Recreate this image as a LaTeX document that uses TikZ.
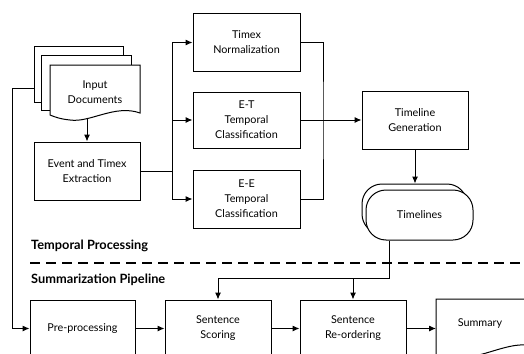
\documentclass[tikz,border=0pt]{standalone}
\usepackage{fontspec}
\setmainfont{Lato}
\usetikzlibrary{arrows.meta}
\begin{document}
\begin{tikzpicture}[x=1pt,y=-1pt,
  box/.style={draw, line width=1pt, fill=white, align=center, inner sep=0pt,
    font=\fontsize{10.8}{15}\selectfont},
  lbl/.style={align=center, inner sep=0pt, font=\fontsize{10.8}{15}\selectfont},
  ln/.style={line width=1pt},
  arr/.style={line width=1pt, -{Latex[length=7pt,width=6pt]}},
  sect/.style={anchor=west, inner sep=0pt, font=\fontsize{12.8}{14}\selectfont\bfseries}]
\useasboundingbox (0,0) rectangle (524,353);

% Input documents stack
\node[box, minimum width=89pt, minimum height=55pt] (back1) at (78.5,74.5) {};
\node[box, minimum width=90pt, minimum height=54pt] (back2) at (86,83) {};
\draw[ln, fill=white] (50,65) -- (140,65) -- (140,113)
  .. controls (115,104) and (90,123) .. (70,120)
  .. controls (60,119) and (55,117) .. (50,115) -- cycle;
\node[lbl] (docs) at (95,92) {Input\\Documents};
\coordinate (docbot) at (87,119);

\node[box, minimum width=106pt, minimum height=58pt] (ext) at (87,171) {Event and Timex\\Extraction};

\node[box, minimum width=107pt, minimum height=57pt] (tn) at (246.5,42.5) {Timex\\Normalization};
\node[box, minimum width=107pt, minimum height=56pt] (et) at (246.5,120) {E-T\\Temporal\\Classification};
\node[box, minimum width=107pt, minimum height=58pt] (ee) at (246.5,199) {E-E\\Temporal\\Classification};

\node[box, minimum width=106pt, minimum height=58pt] (tg) at (415,120) {Timeline\\Generation};

\node[box, rounded corners=20pt, minimum width=105pt, minimum height=50pt] (tlb) at (414.5,209) {};
\node[box, rounded corners=20pt, minimum width=107pt, minimum height=50pt] (tlf) at (419.5,215) {Timelines};

% section labels
\node[sect] (tp) at (31,246) {Temporal Processing};
\node[sect] (sp) at (31,280) {Summarization Pipeline};
\coordinate (dl) at (30,263);
\coordinate (dr) at (524,263);
\draw[line width=2pt, dash pattern=on 10pt off 6pt] (dl) -- (dr);

% summarization pipeline
\node[box, minimum width=105pt, minimum height=57pt] (pre) at (82.5,328.5) {Pre-processing};
\node[box, minimum width=106pt, minimum height=57pt] (ss) at (218,328.5) {Sentence\\Scoring};
\node[box, minimum width=106pt, minimum height=57pt] (sr) at (353,328.5) {Sentence\\Re-ordering};
\draw[ln, fill=white] (436,299) -- (532,299) -- (532,346)
  .. controls (510,340) and (480,360) .. (458,357)
  -- (436,357) -- cycle;
\node[lbl] (sum) at (480,324) {Summary};

% connectors
\draw[arr] (docbot) -- (ext.north);
\coordinate (br) at (172,171);
\draw[ln] (ext.east) -- (br);
\draw[arr] (br) |- (tn.west);
\draw[arr] (br) |- (ee.west);
\draw[arr] (br |- et.west) -- (et.west);
\coordinate (mg) at (323,120);
\draw[ln] (tn.east) -| (mg) |- (ee.east);
\draw[arr] (et.east) -- (tg.west);
\draw[arr] (tg.south) -- (tg.south |- tlb.north);

\coordinate (j) at (389,278);
\draw[arr] (tlf.south -| j) -- (j) -| (ss.north);
\draw[arr] (j -| sr.north) -- (sr.north);

\coordinate (lft) at (12,88);
\draw[arr] (back1.west |- lft) -- (lft) |- (pre.west);
\draw[arr] (pre.east) -- (ss.west);
\draw[arr] (ss.east) -- (sr.west);
\draw[arr] (sr.east) -- (sr.east -| 436,0);
\end{tikzpicture}
\end{document}
